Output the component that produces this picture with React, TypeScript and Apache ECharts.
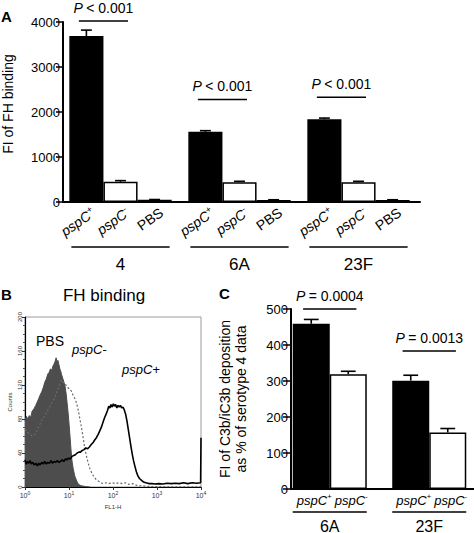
import React, { useEffect, useRef } from "react";
import * as echarts from "echarts";

const FONT = '"Liberation Sans", Arial, Helvetica, sans-serif';

// ---------- Panel A: FI of FH binding ----------
const groupsA = ["4", "6A", "23F"];
const barLabelsA = ["pspC+", "pspC-", "PBS"];
const pspCPlusA = [3690, 1560, 1840];
const pspCPlusErrA = [130, 25, 25];
const pspCMinusA = [450, 440, 440];
const pspCMinusErrA = [25, 20, 20];
const pbsA = [50, 45, 45];
const pbsErrA = [5, 5, 5];
const pTextA = ["< 0.001", "< 0.001", "< 0.001"];
const pLineA = [4020, 2280, 2330];
const yTicksA = { min: 0, max: 4000, interval: 1000 };

// ---------- Panel B: FH binding histogram (FL1-H vs counts) ----------
const histPBS: number[][] = [
  [1, 78], [1.08, 83], [1.16, 80], [1.25, 84], [1.35, 82], [1.45, 89], [1.6, 92], [1.75, 96],
  [1.9, 100], [2.05, 104], [2.2, 108], [2.4, 112], [2.6, 117], [2.85, 124], [3.05, 127],
  [3.3, 133], [3.55, 135], [3.8, 139], [4.05, 137], [4.3, 142], [4.6, 145], [4.85, 148],
  [5.1, 152], [5.35, 147], [5.6, 149], [5.9, 144], [6.2, 139], [6.5, 136], [6.8, 132],
  [7.2, 128], [7.6, 124], [8.1, 119], [8.6, 110], [9.1, 98], [9.6, 86], [10.1, 72],
  [10.6, 58], [11.1, 44], [11.6, 32], [12.4, 22], [13.5, 13], [15, 7], [16.5, 3],
  [19, 1.5], [24, 0.5], [30, 0],
];
const histMinus: number[][] = [
  [1, 68], [1.15, 64], [1.3, 62], [1.45, 60], [1.6, 61], [1.8, 64], [2.0, 70], [2.2, 74],
  [2.45, 80], [2.7, 82], [3.0, 86], [3.4, 92], [3.8, 96], [4.3, 101], [4.8, 106], [5.3, 112],
  [5.8, 117], [6.3, 122], [6.8, 126], [7.3, 123], [7.9, 121], [8.6, 120], [9.4, 117],
  [10.3, 115], [11.3, 113], [12.4, 108], [13.6, 104], [15, 98], [16.3, 90], [17.7, 80],
  [19.2, 70], [20.8, 59], [22.5, 48], [24.5, 38], [27, 29], [30, 21], [34, 15], [38, 11],
  [43, 8], [50, 6], [58, 4], [68, 5], [80, 4], [95, 5], [115, 4], [135, 5], [160, 4],
  [190, 5], [230, 3], [280, 4], [340, 2], [420, 1.5], [550, 1], [800, 0.5], [1500, 0.3],
  [10000, 0.3],
];
const histPlus: number[][] = [
  [1, 32], [1.07, 27], [1.14, 30], [1.22, 28], [1.3, 31], [1.4, 27], [1.5, 29], [1.62, 26],
  [1.75, 28], [1.9, 25], [2.05, 28], [2.2, 26], [2.4, 29], [2.6, 27], [2.8, 30], [3.05, 27],
  [3.3, 29], [3.6, 28], [3.9, 31], [4.2, 28], [4.6, 30], [5.0, 29], [5.4, 31], [5.9, 29],
  [6.4, 30], [7.0, 32], [7.6, 30], [8.3, 33], [9.0, 32], [9.8, 34], [10.7, 33], [11.7, 36],
  [12.8, 37], [14, 38], [15.3, 40], [16.7, 41], [18.2, 41], [20, 43], [22, 44], [24, 46],
  [26.5, 45], [29, 47], [32, 50], [35, 52], [38, 55], [42, 58], [46, 62], [50, 66], [55, 71],
  [60, 77], [65, 82], [70, 86], [75, 90], [80, 95], [85, 93], [90, 97], [96, 94], [102, 98],
  [108, 95], [115, 97], [122, 93], [130, 96], [138, 94], [147, 96], [157, 93], [168, 94],
  [180, 91], [193, 86], [207, 78], [222, 68], [238, 58], [255, 48], [273, 39], [293, 31],
  [316, 24], [340, 18], [368, 13], [400, 10], [440, 8], [490, 6], [560, 5], [650, 4],
  [760, 4], [900, 3.5], [1100, 4], [1350, 3.5], [1700, 4.5], [2100, 4], [2600, 4.5],
  [3200, 4], [4000, 5], [5000, 4], [6300, 5], [8000, 4.5], [9800, 5], [10000, 58],
];
const histLabels = ["PBS", "pspC-", "pspC+"];

// ---------- Panel C: C3b/iC3b deposition ----------
const groupsC = ["6A", "23F"];
const barLabelsC = ["pspC+", "pspC-"];
const pspCPlusC = [459, 301];
const pspCPlusErrC = [12, 15];
const pspCMinusC = [319, 157];
const pspCMinusErrC = [8, 11];
const pTextC = ["= 0.0004", "= 0.0013"];
const pLineC = [500, 383];
const yTicksC = { min: 0, max: 500, interval: 100 };

const GAP_A = 0.14;
const GAP_C = 0.256;

function richLabel(s: string) {
  if (!s.startsWith("pspC")) return `{n|${s}}`;
  return `{i|${s.slice(0, -1)}}{s|${s.slice(-1)}}`;
}
function labelRich(fs: number) {
  return {
    n: { fontSize: fs, fontFamily: FONT, fill: "#000", color: "#000", lineHeight: fs + 2 },
    i: { fontSize: fs, fontFamily: FONT, fontStyle: "italic", fill: "#000", color: "#000", lineHeight: fs + 2 },
    s: { fontSize: Math.round(fs * 0.62), fontFamily: FONT, fontStyle: "italic", fill: "#000", color: "#000", verticalAlign: "top", lineHeight: fs + 2 },
  };
}
const pRich = {
  p: { fontSize: 14, fontFamily: FONT, fontStyle: "italic", fill: "#000" },
  t: { fontSize: 14, fontFamily: FONT, fill: "#000" },
};

function errRender(n: number, gap: number, capRatio: number) {
  return (params: any, api: any) => {
    const c = api.value(0), v = api.value(1), e = api.value(2), s = api.value(3);
    const base = api.coord([c, v]);
    const top = api.coord([c, v + e]);
    const bw = api.size([1, 0])[0];
    const barW = (bw * (1 - gap)) / n;
    const x = base[0] + (s - (n - 1) / 2) * barW;
    const cap = barW * capRatio;
    const st = { stroke: "#000", lineWidth: 1.6 };
    return {
      type: "group",
      children: [
        { type: "line", shape: { x1: x, y1: base[1], x2: x, y2: top[1] }, style: st },
        { type: "line", shape: { x1: x - cap, y1: top[1], x2: x + cap, y2: top[1] }, style: st },
      ],
    };
  };
}

export default function App() {
  const ref = useRef<HTMLDivElement>(null);
  useEffect(() => {
    if (!ref.current) return;
    const chart = echarts.init(ref.current, undefined, { renderer: "svg" });

    const errA: number[][] = [];
    groupsA.forEach((_, c) => {
      errA.push([c, pspCPlusA[c], pspCPlusErrA[c], 0]);
      errA.push([c, pspCMinusA[c], pspCMinusErrA[c], 1]);
      errA.push([c, pbsA[c], pbsErrA[c], 2]);
    });
    const errC: number[][] = [];
    groupsC.forEach((_, c) => {
      errC.push([c, pspCPlusC[c], pspCPlusErrC[c], 0]);
      errC.push([c, pspCMinusC[c], pspCMinusErrC[c], 1]);
    });
    const labDataA: number[][] = [];
    groupsA.forEach((_, c) => barLabelsA.forEach((_, s) => labDataA.push([c, s])));
    const labDataC: number[][] = [];
    groupsC.forEach((_, c) => barLabelsC.forEach((_, s) => labDataC.push([c, s])));

    const axisBlack = { color: "#000", width: 2 };
    const hiddenAxis = { show: false };
    const plain = (v: number) => String(v);

    const barStyle = (fill: string) => ({ color: fill, borderColor: "#000", borderWidth: 1.5 });

    const option: any = {
      animation: false,
      backgroundColor: "#fff",
      textStyle: { fontFamily: FONT, color: "#000" },
      grid: [
        { left: 61, right: 56, top: 22, bottom: 331, outerBoundsMode: "none" },
        { left: 63, right: 54, top: 22, bottom: 331, outerBoundsMode: "none" },
        { left: 25, right: 273, top: 317, bottom: 46, show: true, borderColor: "#9a9a9a", borderWidth: 1, outerBoundsMode: "none" },
        { left: 280, right: -5, top: 309, bottom: 44, outerBoundsMode: "none" },
        { left: 291, right: 0, top: 309, bottom: 44, outerBoundsMode: "none" },
      ],
      xAxis: [
        {
          gridIndex: 0, type: "category", data: groupsA,
          axisLine: hiddenAxis, axisTick: hiddenAxis, splitLine: hiddenAxis,
          axisLabel: { margin: 54, fontSize: 17, color: "#000", fontFamily: FONT },
        },
        {
          gridIndex: 1, type: "value", min: 0, max: 1,
          axisLine: { show: true, lineStyle: axisBlack, onZero: false }, axisTick: hiddenAxis,
          axisLabel: hiddenAxis, splitLine: hiddenAxis,
        },
        {
          gridIndex: 2, type: "log", logBase: 10, min: 1, max: 10000,
          axisLine: { show: true, lineStyle: { color: "#000", width: 1.2 }, onZero: false },
          axisTick: { show: true, length: 3, lineStyle: { color: "#333", width: 1 } },
          splitLine: hiddenAxis,
          axisLabel: {
            margin: 3, color: "#333",
            formatter: (v: number) => `{b|10}{s|${Math.round(Math.log10(v))}}`,
            rich: {
              b: { fontSize: 7, color: "#333", lineHeight: 9, verticalAlign: "bottom" },
              s: { fontSize: 5, color: "#333", lineHeight: 9, verticalAlign: "top" },
            },
          },
          name: "FL1-H", nameLocation: "middle", nameGap: 17,
          nameTextStyle: { fontSize: 6, color: "#333" },
        },
        {
          gridIndex: 3, type: "category", data: groupsC,
          axisLine: hiddenAxis, axisTick: hiddenAxis, splitLine: hiddenAxis,
          axisLabel: { margin: 29, fontSize: 16, color: "#000", fontFamily: FONT },
        },
        {
          gridIndex: 4, type: "value", min: 0, max: 1,
          axisLine: { show: true, lineStyle: axisBlack, onZero: false }, axisTick: hiddenAxis,
          axisLabel: hiddenAxis, splitLine: hiddenAxis,
        },
      ],
      yAxis: [
        { gridIndex: 0, type: "value", ...yTicksA, show: false },
        {
          gridIndex: 1, type: "value", ...yTicksA,
          axisLine: { show: true, lineStyle: axisBlack },
          axisTick: { show: true, length: 7, lineStyle: { color: "#000", width: 1.5 } },
          axisLabel: { fontSize: 13, color: "#000", margin: 3, formatter: plain },
          splitLine: hiddenAxis,
          name: "FI of FH binding", nameLocation: "middle", nameGap: 48,
          nameTextStyle: { fontSize: 14, color: "#000", padding: [0, 0, 0, 16] },
        },
        {
          gridIndex: 2, type: "value", min: 0, max: 200, interval: 40,
          axisLine: { show: true, lineStyle: { color: "#000", width: 1.2 } },
          axisTick: { show: true, length: 3, lineStyle: { color: "#333" } },
          minorTick: { show: true, splitNumber: 4, length: 2, lineStyle: { color: "#555" } },
          axisLabel: { fontSize: 6, color: "#333", rotate: 90, margin: 2, formatter: plain },
          splitLine: hiddenAxis,
          name: "Counts", nameLocation: "middle", nameGap: 12,
          nameTextStyle: { fontSize: 6, color: "#333" },
        },
        { gridIndex: 3, type: "value", ...yTicksC, show: false },
        {
          gridIndex: 4, type: "value", ...yTicksC,
          axisLine: { show: true, lineStyle: axisBlack },
          axisTick: { show: true, length: 8, lineStyle: { color: "#000", width: 1.5 } },
          axisLabel: { fontSize: 13, color: "#000", margin: 3, formatter: plain },
          splitLine: hiddenAxis,
          name: "FI of C3b/iC3b deposition\nas % of serotype 4 data",
          nameLocation: "middle", nameGap: 42,
          nameTextStyle: { fontSize: 14, color: "#000", lineHeight: 16 },
        },
      ],
      series: [
        // ---- Panel A bars
        { type: "bar", name: "pspC+", xAxisIndex: 0, yAxisIndex: 0, data: pspCPlusA, barGap: "0%", barCategoryGap: `${GAP_A * 100}%`, itemStyle: barStyle("#000") },
        { type: "bar", name: "pspC-", xAxisIndex: 0, yAxisIndex: 0, data: pspCMinusA, barGap: "0%", barCategoryGap: `${GAP_A * 100}%`, itemStyle: barStyle("#fff") },
        { type: "bar", name: "PBS", xAxisIndex: 0, yAxisIndex: 0, data: pbsA, barGap: "0%", barCategoryGap: `${GAP_A * 100}%`, itemStyle: barStyle("#fff") },
        { type: "custom", xAxisIndex: 0, yAxisIndex: 0, data: errA, clip: false, z: 3, renderItem: errRender(3, GAP_A, 0.16) },
        {
          type: "custom", xAxisIndex: 0, yAxisIndex: 0, data: labDataA, clip: false, silent: true,
          renderItem: (params: any, api: any) => {
            const c = api.value(0), s = api.value(1);
            const base = api.coord([c, 0]);
            const bw = api.size([1, 0])[0];
            const barW = (bw * (1 - GAP_A)) / 3;
            const x = base[0] + (s - 1) * barW;
            return {
              type: "text", x: x + 7, y: base[1] + 9, rotation: (35 * Math.PI) / 180,
              style: { text: richLabel(barLabelsA[s]), rich: labelRich(14), align: "right", verticalAlign: "middle", fill: "#000" },
            };
          },
        },
        {
          type: "custom", xAxisIndex: 0, yAxisIndex: 0, data: groupsA.map((_, c) => [c, 0]), clip: false, silent: true,
          renderItem: (params: any, api: any) => {
            const c = api.value(0);
            const base = api.coord([c, 0]);
            const bw = api.size([1, 0])[0];
            const half = (bw * (1 - GAP_A)) / 2 * 0.96;
            return { type: "line", shape: { x1: base[0] - half, y1: base[1] + 45, x2: base[0] + half, y2: base[1] + 45 }, style: { stroke: "#000", lineWidth: 1.5 } };
          },
        },
        {
          type: "custom", xAxisIndex: 0, yAxisIndex: 0, data: groupsA.map((_, c) => [c, pLineA[c]]), clip: false, silent: true,
          renderItem: (params: any, api: any) => {
            const c = api.value(0), v = api.value(1);
            const p = api.coord([c, v]);
            const bw = api.size([1, 0])[0];
            const barW = (bw * (1 - GAP_A)) / 3;
            const cx = p[0] - 0.5 * barW;
            const half = barW * 0.72;
            return {
              type: "group",
              children: [
                { type: "line", shape: { x1: cx - half, y1: p[1], x2: cx + half, y2: p[1] }, style: { stroke: "#000", lineWidth: 1.5 } },
                { type: "text", x: cx, y: p[1] - 13, style: { text: `{p|P} {t|${pTextA[c]}}`, rich: pRich, align: "center", verticalAlign: "middle", fill: "#000" } },
              ],
            };
          },
        },
        // ---- Panel B histograms
        {
          type: "line", name: histLabels[0], xAxisIndex: 2, yAxisIndex: 2, data: histPBS, symbol: "none",
          lineStyle: { color: "#4d4d4d", width: 1 }, areaStyle: { color: "#4d4d4d", opacity: 1 }, z: 1,
        },
        {
          type: "line", name: histLabels[1], xAxisIndex: 2, yAxisIndex: 2, data: histMinus, symbol: "none",
          lineStyle: { color: "#6a6a6a", width: 1.2, type: [2, 2] }, z: 2,
        },
        {
          type: "line", name: histLabels[2], xAxisIndex: 2, yAxisIndex: 2, data: histPlus, symbol: "none",
          lineStyle: { color: "#000", width: 1.6 }, z: 3,
        },
        // ---- Panel C bars
        { type: "bar", name: "pspC+ C", xAxisIndex: 3, yAxisIndex: 3, data: pspCPlusC, barGap: "0%", barCategoryGap: `${GAP_C * 100}%`, itemStyle: barStyle("#000") },
        { type: "bar", name: "pspC- C", xAxisIndex: 3, yAxisIndex: 3, data: pspCMinusC, barGap: "0%", barCategoryGap: `${GAP_C * 100}%`, itemStyle: barStyle("#fff") },
        { type: "custom", xAxisIndex: 3, yAxisIndex: 3, data: errC, clip: false, z: 3, renderItem: errRender(2, GAP_C, 0.2) },
        {
          type: "custom", xAxisIndex: 3, yAxisIndex: 3, data: labDataC, clip: false, silent: true,
          renderItem: (params: any, api: any) => {
            const c = api.value(0), s = api.value(1);
            const base = api.coord([c, 0]);
            const bw = api.size([1, 0])[0];
            const barW = (bw * (1 - GAP_C)) / 2;
            const x = base[0] + (s - 0.5) * barW + 3;
            return {
              type: "text", x, y: base[1] + 11,
              style: { text: richLabel(barLabelsC[s]), rich: labelRich(13), align: "center", verticalAlign: "middle", fill: "#000" },
            };
          },
        },
        {
          type: "custom", xAxisIndex: 3, yAxisIndex: 3, data: groupsC.map((_, c) => [c, 0]), clip: false, silent: true,
          renderItem: (params: any, api: any) => {
            const c = api.value(0);
            const base = api.coord([c, 0]);
            const bw = api.size([1, 0])[0];
            const half = (bw * (1 - GAP_C)) / 2;
            return { type: "line", shape: { x1: base[0] - half, y1: base[1] + 23, x2: base[0] + half, y2: base[1] + 23 }, style: { stroke: "#000", lineWidth: 1.5 } };
          },
        },
        {
          type: "custom", xAxisIndex: 3, yAxisIndex: 3, data: groupsC.map((_, c) => [c, pLineC[c]]), clip: false, silent: true,
          renderItem: (params: any, api: any) => {
            const c = api.value(0), v = api.value(1);
            const p = api.coord([c, v]);
            const bw = api.size([1, 0])[0];
            const barW = (bw * (1 - GAP_C)) / 2;
            const half = barW * 0.72;
            return {
              type: "group",
              children: [
                { type: "line", shape: { x1: p[0] - half, y1: p[1], x2: p[0] + half, y2: p[1] }, style: { stroke: "#000", lineWidth: 1.5 } },
                { type: "text", x: p[0], y: p[1] - 13, style: { text: `{p|P} {t|${pTextC[c]}}`, rich: pRich, align: "center", verticalAlign: "middle", fill: "#000" } },
              ],
            };
          },
        },
      ],
      graphic: [
        { type: "text", left: 1, top: 9, style: { text: "A", font: `bold 15px ${FONT}`, fill: "#000" } },
        { type: "text", left: 1, top: 287, style: { text: "B", font: `bold 15px ${FONT}`, fill: "#000" } },
        { type: "text", left: 219, top: 286, style: { text: "C", font: `bold 15px ${FONT}`, fill: "#000" } },
        { type: "text", x: 104, y: 295, style: { text: "FH binding", font: `17px ${FONT}`, fill: "#000", align: "center", verticalAlign: "middle" } },
        { type: "text", x: 36, y: 341, style: { text: histLabels[0], font: `14px ${FONT}`, fill: "#000", verticalAlign: "middle" } },
        { type: "text", x: 72, y: 349, style: { text: histLabels[1], font: `italic 13px ${FONT}`, fill: "#000", verticalAlign: "middle" } },
        { type: "text", x: 122, y: 369, style: { text: histLabels[2], font: `italic 13px ${FONT}`, fill: "#000", verticalAlign: "middle" } },
      ],
    };
    chart.setOption(option);
    return () => chart.dispose();
  }, []);
  return (
    <div
      ref={ref}
      style={{ position: "absolute", left: 0, top: 0, width: 474, height: 533, background: "#fff" }}
    />
  );
}
